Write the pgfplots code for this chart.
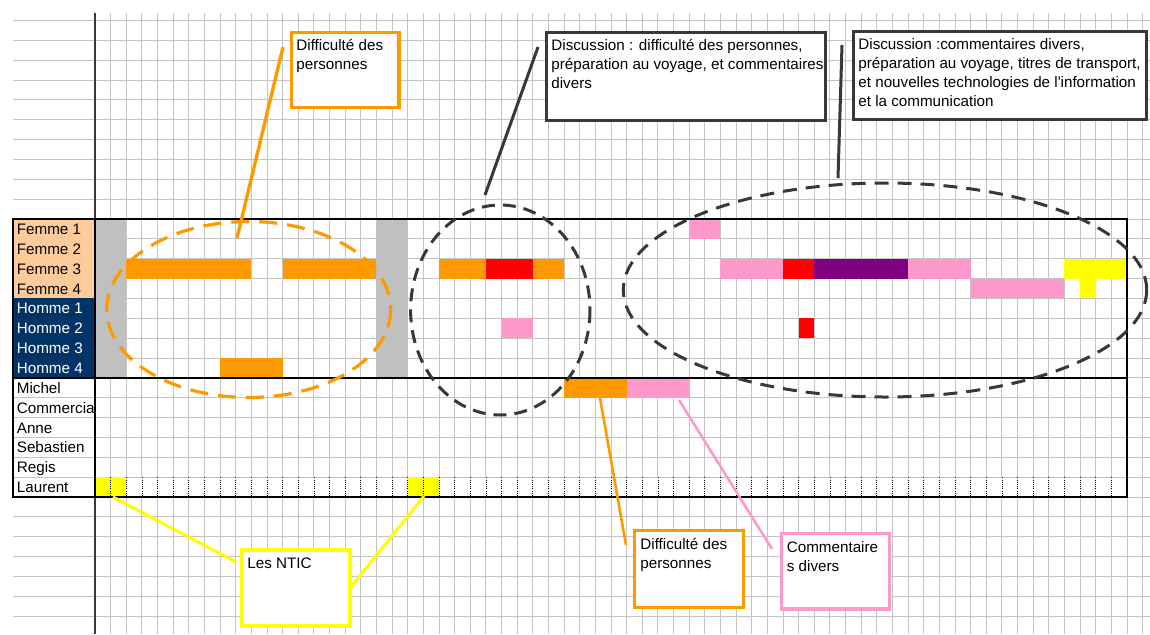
\documentclass[border=0pt]{standalone}
\usepackage{pgfplots}
\pgfplotsset{compat=1.18}
\usepackage{fontspec}
\setmainfont{Liberation Sans}[Ligatures=TeXOff]

\definecolor{cOrange}{RGB}{255,153,0}
\definecolor{cRed}{RGB}{255,0,0}
\definecolor{cPink}{RGB}{255,153,204}
\definecolor{cPurple}{RGB}{128,0,128}
\definecolor{cYellow}{RGB}{255,255,0}
\definecolor{cGray}{RGB}{192,192,192}
\definecolor{cGrid}{RGB}{196,196,196}
\definecolor{cPeach}{RGB}{255,204,153}
\definecolor{cNavy}{RGB}{0,51,102}
\definecolor{cDark}{RGB}{56,56,56}

% one coloured cell run: colour, first col, last col, top row, bottom row
\newcommand{\cell}[5]{\addplot[fill=#1, draw=none, forget plot] coordinates {(#2,#4) (#3,#4) (#3,#5) (#2,#5)} -- cycle;}
% row label in the left column (pixel scope)
\newcommand{\lab}[3]{\node[anchor=base west, inner sep=0pt, text=#2] at (16.5,{234.5+19.857*#1}) {#3};}
\newcommand{\txt}[3]{\node[anchor=base west, inner sep=0pt] at (#1,#2) {#3};}

\begin{document}
\begin{tikzpicture}[font=\fontsize{7.6}{9.2}\selectfont]
\begin{axis}[at={(0,0)}, anchor=south west, scale only axis,
  width=568.5pt, height=310.5pt,
  xmin=-5.244, xmax=67.47, ymin=-10.374, ymax=20.899, y dir=reverse,
  xtick={0,1,...,67}, ytick={-10,-9,...,20},
  xticklabels={}, yticklabels={},
  major tick length=0pt, axis line style={draw=none},
  grid=major, grid style={cGrid, line width=0.5pt}]

% Laurent row has dotted separators instead of grey ones
\fill[white] (axis cs:0,13.04) rectangle (axis cs:66,13.96);

% grey separator columns
\cell{cGray}{0}{2}{0}{8}
\cell{cGray}{18}{20}{0}{8}
% Femme 1
\cell{cPink}{38}{40}{0}{1}
% Femme 3
\cell{cOrange}{2}{10}{2}{3}
\cell{cOrange}{12}{18}{2}{3}
\cell{cOrange}{22}{25}{2}{3}
\cell{cRed}{25}{28}{2}{3}
\cell{cOrange}{28}{30}{2}{3}
\cell{cPink}{40}{44}{2}{3}
\cell{cRed}{44}{46}{2}{3}
\cell{cPurple}{46}{52}{2}{3}
\cell{cPink}{52}{56}{2}{3}
\cell{cYellow}{62}{66}{2}{3}
% Femme 4
\cell{cPink}{56}{62}{3}{4}
\cell{cYellow}{63}{64}{3}{4}
% Homme 2
\cell{cPink}{26}{28}{5}{6}
\cell{cRed}{45}{46}{5}{6}
% Homme 4
\cell{cOrange}{8}{12}{7}{8}
% Michel
\cell{cOrange}{30}{34}{8}{9}
\cell{cPink}{34}{38}{8}{9}
% Laurent
\cell{cYellow}{0}{2}{13}{14}
\cell{cYellow}{20}{22}{13}{14}
\end{axis}

% annotations, in pixel units of the reference
\begin{scope}[x=0.5pt, y=-0.5pt, shift={(-13,-634)}]
  \fill[cPeach] (13,219) rectangle (95,298.43);
  \fill[cNavy] (13,298.43) rectangle (95,377.86);
  \lab{0}{black}{Femme 1}
  \lab{1}{black}{Femme 2}
  \lab{2}{black}{Femme 3}
  \lab{3}{black}{Femme 4}
  \lab{4}{white}{Homme 1}
  \lab{5}{white}{Homme 2}
  \lab{6}{white}{Homme 3}
  \lab{7}{white}{Homme 4}
  \lab{8}{black}{Michel}
  \begin{scope}
    \clip (13,397.7) rectangle (94.5,417.6);
    \lab{9}{black}{Commercial}
  \end{scope}
  \lab{10}{black}{Anne}
  \lab{11}{black}{Sebastien}
  \lab{12}{black}{Regis}
  \lab{13}{black}{Laurent}

  \foreach \c in {1,...,65}
    \draw[black, line width=0.4pt, dash pattern=on 0.5pt off 0.6pt] ({95+15.636*\c},477.4) -- ({95+15.636*\c},496.8);

  \draw[cDark, line width=0.6pt] (95,13) -- (95,634);
  \draw[black, line width=1pt] (13,219) rectangle (1127,377.86);
  \draw[black, line width=1pt] (13,377.86) rectangle (1127,497);
  \draw[black, line width=1pt] (95,219) -- (95,497);

  % dashed groupings
  \draw[cOrange, line width=1.6pt, dash pattern=on 9pt off 5pt] (248.7,309.5) ellipse [x radius=142, y radius=88];
  \draw[cDark, line width=1.5pt, dash pattern=on 6.5pt off 4pt] (500.3,310) ellipse [x radius=89.7, y radius=105];
  \draw[cDark, line width=1.5pt, dash pattern=on 7pt off 4.5pt] (885,290) ellipse [x radius=261.7, y radius=107];

  % callout leaders
  \draw[cOrange, line width=1.7pt] (283,47) -- (237,238);
  \draw[cDark, line width=1.5pt] (538,47) -- (485,195);
  \draw[cDark, line width=1.5pt] (842,45) -- (838,178);
  \draw[cYellow, line width=1.5pt] (113,497) -- (236,562);
  \draw[cYellow, line width=1.5pt] (424,496) -- (350,588);
  \draw[cOrange, line width=1.3pt] (600,398) -- (626,545);
  \draw[cPink, line width=1.3pt] (679,400) -- (772,549);

  % callout boxes
  \draw[cOrange, line width=1.6pt, fill=white] (291.7,32.3) rectangle (399,107.7);
  \txt{296}{50.7}{Difficulté des}
  \txt{296}{69.5}{personnes}
  \draw[cDark, line width=1.5pt, fill=white] (546,32.3) rectangle (825.8,120);
  \txt{551}{50.5}{Discussion : difficulté des personnes,}
  \txt{551}{69.7}{préparation au voyage, et commentaires}
  \txt{551}{88.9}{divers}
  \draw[cDark, line width=1.5pt, fill=white] (853,31) rectangle (1146.4,119);
  \txt{858}{49}{Discussion :commentaires divers,}
  \txt{858}{68.2}{préparation au voyage, titres de transport,}
  \txt{858}{87.4}{et nouvelles technologies de l'information}
  \txt{858}{106.6}{et la communication}
  \draw[cYellow, line width=1.6pt, fill=white] (242,550) rectangle (350,626);
  \txt{247}{568}{Les NTIC}
  \draw[cOrange, line width=1.6pt, fill=white] (634.6,530.7) rectangle (743.2,607.7);
  \txt{640}{549}{Difficulté des}
  \txt{640}{568}{personnes}
  \draw[cPink, line width=1.6pt, fill=white] (781.4,533.3) rectangle (889.2,609);
  \txt{786.5}{552.5}{Commentaire}
  \txt{786.5}{571.5}{s divers}

  \pgfresetboundingbox
  \useasboundingbox (0,0) rectangle (1150,634);
\end{scope}
\end{tikzpicture}
\end{document}
